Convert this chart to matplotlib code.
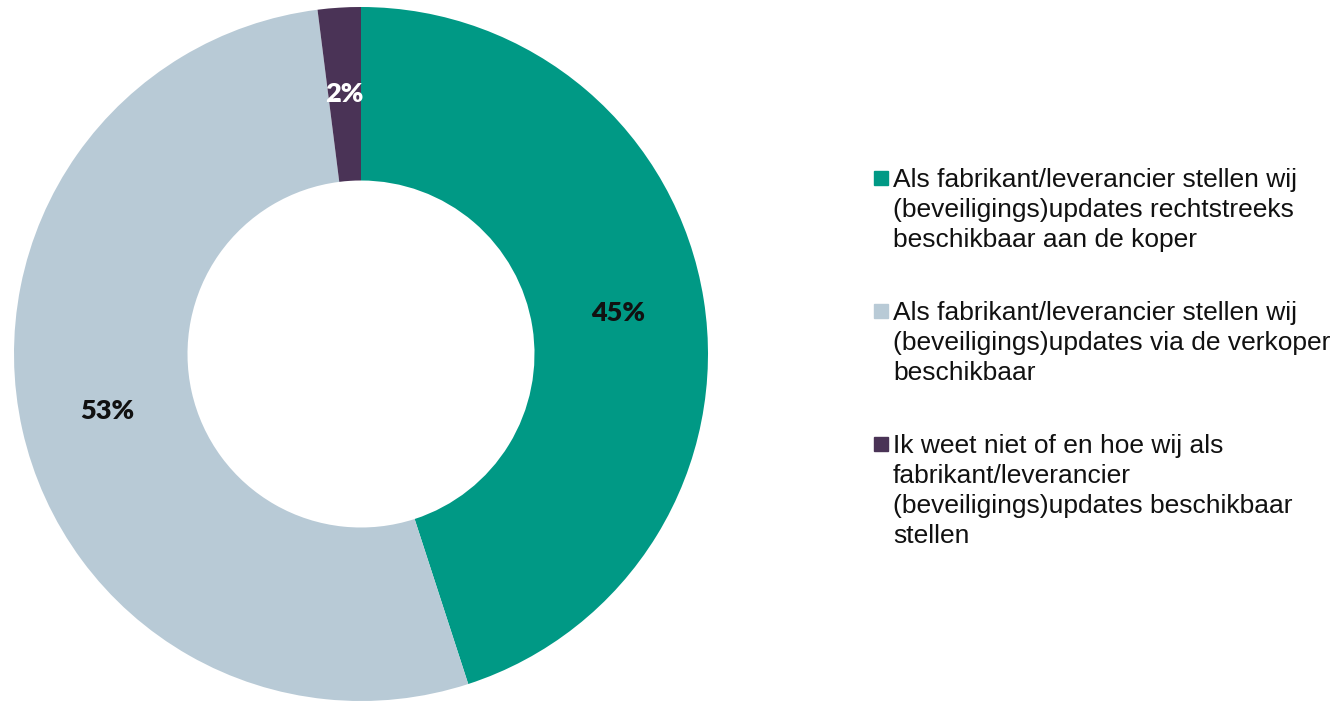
import matplotlib.pyplot as plt
from matplotlib.patches import Rectangle

labels = [
    "Als fabrikant/leverancier stellen wij\n(beveiligings)updates rechtstreeks\nbeschikbaar aan de koper",
    "Als fabrikant/leverancier stellen wij\n(beveiligings)updates via de verkoper\nbeschikbaar",
    "Ik weet niet of en hoe wij als\nfabrikant/leverancier\n(beveiligings)updates beschikbaar\nstellen",
]
values = [45, 53, 2]
colors = ["#009985", "#B8CAD6", "#4A3356"]
label_colors = ["#111111", "#111111", "white"]

W, H = 1342, 701
fig = plt.figure(figsize=(W / 100, H / 100), dpi=100)

# donut: center (361, 354) px, outer radius 347 px
cx, cy, r = 361, 354, 347
ax = fig.add_axes([(cx - r) / W, (H - cy - r) / H, 2 * r / W, 2 * r / H])
wedges, _, autotexts = ax.pie(values, colors=colors, startangle=90, counterclock=False,
                              radius=1, pctdistance=0.75, autopct="%1.0f%%",
                              wedgeprops=dict(width=0.5, linewidth=0))
for t, c in zip(autotexts, label_colors):
    t.set_color(c)
    t.set_fontfamily("Lato")
    t.set_fontweight("heavy")
    t.set_fontsize(19.5)
ax.set_xlim(-1, 1)
ax.set_ylim(-1, 1)
ax.set_aspect("equal")
ax.axis("off")

# legend drawn by hand so the spacing matches
y = 178
for lab, col in zip(labels, colors):
    fig.patches.append(Rectangle((874 / W, 1 - (y + 7) / H), 14 / W, 14 / H,
                                 transform=fig.transFigure, color=col))
    fig.text(893 / W, 1 - (y - 10) / H, lab, ha="left", va="top",
             fontsize=19, family="Liberation Sans", color="#111111", linespacing=1.31)
    n = lab.count("\n") + 1
    y += n * 30 + 43

fig.savefig("out.png", dpi=100)
